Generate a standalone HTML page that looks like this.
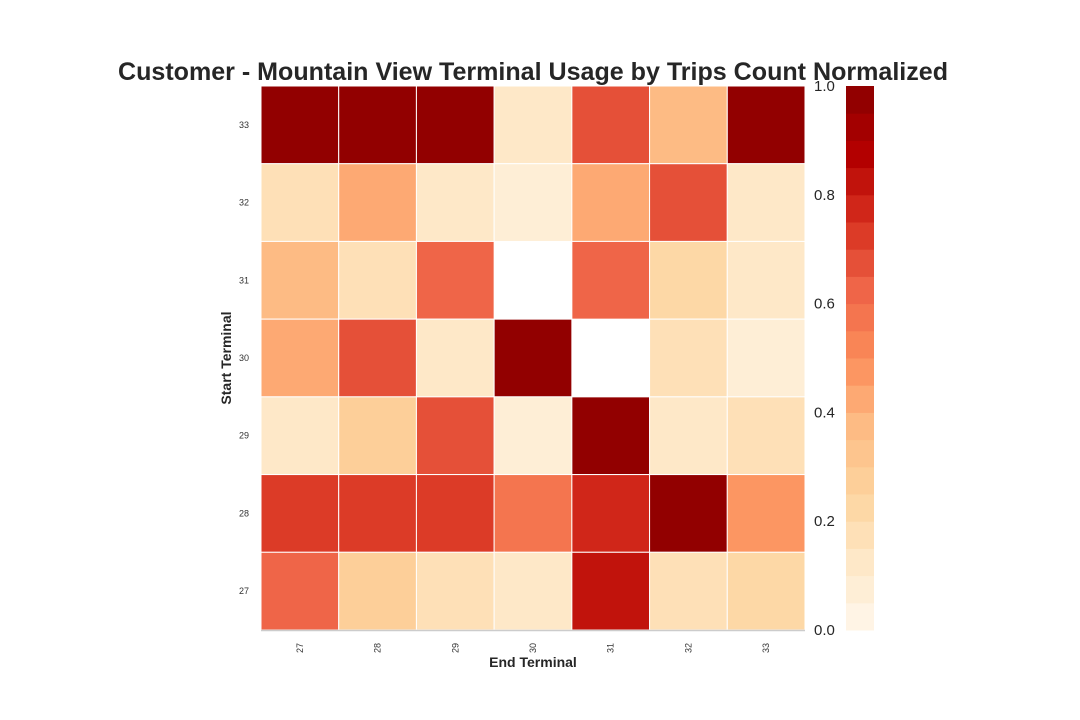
<!DOCTYPE html>
<html><head><meta charset="utf-8"><style>
html,body{margin:0;padding:0;background:#fff;width:1080px;height:720px;overflow:hidden;font-family:"Liberation Sans",Arial,sans-serif;}
</style></head><body>
<svg id="chart" width="1080" height="720" xmlns="http://www.w3.org/2000/svg"></svg>
<script>
const xCats = ["27","28","29","30","31","32","33"];
const yCats = ["33","32","31","30","29","28","27"];
const row33 = [1.0,1.0,1.0,0.10,0.67,0.35,1.0];
const row32 = [0.15,0.40,0.10,0.06,0.40,0.67,0.10];
const row31 = [0.35,0.15,0.61,null,0.61,0.20,0.10];
const row30 = [0.40,0.67,0.10,1.0,null,0.15,0.06];
const row29 = [0.12,0.25,0.68,0.06,1.0,0.10,0.18];
const row28 = [0.72,0.72,0.72,0.55,0.76,1.0,0.48];
const row27 = [0.61,0.28,0.16,0.13,0.82,0.16,0.21];
const rows = [row33,row32,row31,row30,row29,row28,row27];
const cbTicks = [0.0,0.2,0.4,0.6,0.8,1.0];

const NS="http://www.w3.org/2000/svg";
const svg=document.getElementById('chart');
function mk(t,a){const e=document.createElementNS(NS,t);for(const k in a)e.setAttribute(k,a[k]);svg.appendChild(e);return e;}
const stops=["#fff7ec","#fee8c8","#fdd49e","#fdbb84","#fc8d59","#ef6548","#d7301f","#b30000","#8a0000"];
function hex(h){return [1,3,5].map(i=>parseInt(h.substr(i,2),16));}
function cmap(v){const nb=20;let b=Math.min(nb-1,Math.floor(v*nb));const t=(b+0.5)/nb;const p=t*(stops.length-1);const i=Math.min(stops.length-2,Math.floor(p));const f=p-i;const a=hex(stops[i]),c=hex(stops[i+1]);return "rgb("+a.map((x,k)=>Math.round(x+(c[k]-x)*f)).join(",")+")";}
const L=261,T=86,W=544,H=544,cw=W/xCats.length,ch=H/yCats.length;
const xs=i=>L+i*cw, ys=j=>T+j*ch;
rows.forEach((r,j)=>r.forEach((v,i)=>{
  if(v===null)return;
  const el=mk('rect',{x:xs(i),y:ys(j),width:cw,height:ch,fill:cmap(v),stroke:"#fff","stroke-width":1});
  
  
}));
const ax=mk('line',{x1:L,x2:L+W,y1:T+H+0.5,y2:T+H+0.5,stroke:"#ccc","stroke-width":1.5});


xCats.forEach((c,i)=>{const x=xs(i)+cw/2,y=648;const t=mk('text',{x:x,y:y,transform:`rotate(-90 ${x} ${y})`,"font-size":9,fill:"#333","text-anchor":"middle","dominant-baseline":"central"});t.textContent=c;

});
yCats.forEach((c,j)=>{const t=mk('text',{x:244,y:ys(j)+ch/2+3,"font-size":9,fill:"#333","text-anchor":"middle"});t.textContent=c;

});
const CL=846,CW=28,nb=20;
for(let b=0;b<nb;b++){const r=mk('rect',{x:CL,y:T+H-(b+1)*H/nb,width:CW,height:H/nb+0.5,fill:cmap((b+0.5)/nb)});

}
cbTicks.forEach(v=>{const t=mk('text',{x:814,y:T+H-v*H+5,"font-size":15,fill:"#262626"});t.textContent=v.toFixed(1);

});
const title=mk('text',{x:533,y:80,"font-size":25,"font-weight":"bold",fill:"#262626","text-anchor":"middle",textLength:830,lengthAdjust:"spacingAndGlyphs"});title.textContent="Customer - Mountain View Terminal Usage by Trips Count Normalized";


const xl=mk('text',{x:533,y:667,"font-size":14,"font-weight":"bold",fill:"#262626","text-anchor":"middle"});xl.textContent="End Terminal";


const yl=mk('text',{x:231,y:358,transform:"rotate(-90 231 358)","font-size":14,"font-weight":"bold",fill:"#262626","text-anchor":"middle"});yl.textContent="Start Terminal";


</script>
</body></html>
